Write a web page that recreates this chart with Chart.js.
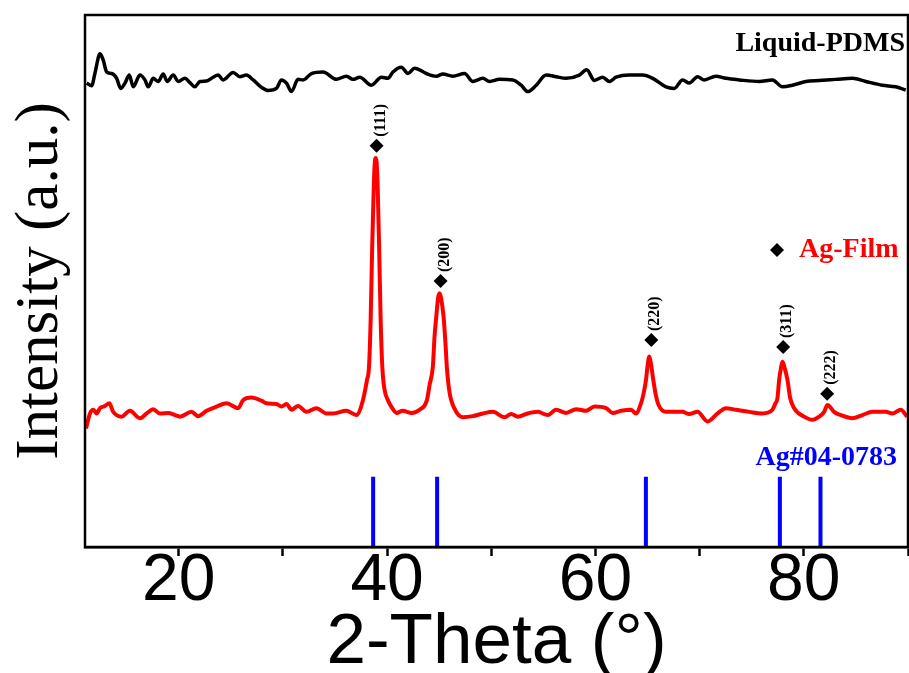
<!DOCTYPE html>
<html>
<head>
<meta charset="utf-8">
<script src="https://cdn.jsdelivr.net/npm/chart.js@4.4.0/dist/chart.umd.min.js"></script>
<style>
  html, body { margin: 0; padding: 0; background: #fff; overflow: hidden; }
  #wrap { width: 909px; height: 673px; position: relative; }
  #xrd { display: block; }
</style>
</head>
<body>
<div id="wrap"><canvas id="xrd"></canvas></div>
<script>
// ----------- Data -----------
// Liquid-PDMS trace (offset at the top)
const pdmsX = [11.16, 11.64, 11.96, 12.44, 12.75, 13.08, 13.56, 14.04, 14.42, 14.84,
  15.25, 15.63, 16.27, 16.75, 17.07, 17.55, 18.03, 18.51, 18.89, 19.47,
  19.95, 20.59, 21.07, 21.55, 22.03, 22.67, 23.30, 23.78, 24.26, 25.22,
  25.86, 26.50, 27.14, 27.94, 28.57, 29.38, 29.86, 30.34, 30.82, 31.45,
  31.93, 32.74, 33.85, 35.12, 36.09, 36.72, 37.37, 38.49, 39.45, 40.08,
  40.56, 41.36, 42.00, 42.64, 43.76, 44.72, 45.35, 46.31, 47.43, 48.23,
  49.19, 49.83, 50.79, 52.06, 52.87, 53.50, 54.31, 55.27, 56.22, 57.18,
  58.46, 59.16, 59.90, 60.69, 61.34, 61.98, 63.25, 64.53, 65.49, 66.77,
  67.57, 68.36, 69.00, 69.80, 70.44, 71.56, 72.52, 73.80, 75.71, 76.99,
  77.95, 78.91, 80.19, 81.47, 83.07, 84.66, 85.95, 87.54, 88.82, 89.78];
const pdmsY = [87.2, 86.7, 89.1, 92.7, 91.5, 89.3, 89.0, 88.1, 86.2, 87.2,
  88.7, 86.5, 88.7, 87.8, 86.5, 88.1, 87.5, 88.9, 87.5, 88.7,
  87.5, 88.1, 87.3, 86.5, 87.5, 87.6, 88.3, 88.7, 87.8, 89.2,
  88.4, 88.7, 87.8, 86.4, 85.8, 86.2, 87.8, 87.2, 85.6, 87.9,
  87.8, 89.0, 89.3, 87.9, 88.5, 87.9, 88.3, 86.8, 88.3, 88.1,
  89.3, 90.2, 89.0, 90.0, 89.0, 88.5, 88.9, 88.5, 89.0, 87.5,
  88.1, 87.5, 87.9, 87.8, 86.8, 85.6, 86.8, 88.7, 88.4, 88.1,
  88.7, 89.7, 87.7, 88.3, 87.5, 88.3, 88.7, 88.7, 88.1, 86.5,
  86.2, 87.8, 87.2, 88.4, 87.8, 88.5, 88.1, 87.8, 87.5, 87.8,
  86.5, 86.8, 87.5, 87.7, 87.9, 88.1, 87.5, 86.8, 86.5, 85.9];

// Ag-Film trace
const agX = [11.10, 11.48, 11.80, 12.12, 12.44, 12.92, 13.33, 13.71, 14.52, 15.31,
  16.27, 16.92, 17.55, 18.19, 18.99, 19.63, 20.11, 21.23, 21.86, 22.67,
  23.63, 24.59, 25.70, 26.18, 26.98, 27.94, 28.42, 29.38, 29.86, 30.34,
  30.82, 31.45, 32.26, 33.21, 34.17, 34.81, 36.09, 37.05, 37.68, 38.07,
  38.26, 38.42, 38.56, 38.71, 38.80, 38.90, 38.99, 39.09, 39.24, 39.38,
  39.54, 39.76, 40.08, 40.43, 40.91, 41.49, 42.35, 43.12, 43.82, 44.08,
  44.39, 44.56, 44.72, 44.89, 45.03, 45.18, 45.42, 45.61, 45.73, 45.99,
  46.47, 47.27, 48.23, 49.19, 50.15, 51.27, 51.91, 52.54, 53.50, 54.46,
  55.42, 56.23, 57.18, 58.14, 59.10, 59.90, 61.02, 61.65, 62.46, 63.42,
  63.89, 64.37, 64.59, 64.85, 65.01, 65.17, 65.33, 65.55, 65.79, 66.06,
  66.77, 67.08, 68.36, 69.00, 69.80, 70.76, 71.72, 72.52, 73.48, 74.76,
  76.03, 76.99, 77.25, 77.47, 77.63, 77.80, 77.95, 78.11, 78.43, 78.69,
  79.07, 80.03, 80.83, 81.47, 81.95, 82.27, 82.53, 82.91, 83.55, 84.66,
  85.62, 86.58, 87.86, 88.50, 89.30, 89.91];
const agY = [22.3, 25.1, 25.8, 25.1, 26.1, 26.5, 27.0, 25.4, 24.5, 25.6,
  24.2, 25.1, 25.9, 25.1, 25.2, 24.8, 24.5, 25.4, 24.6, 25.6,
  26.4, 27.0, 26.1, 27.6, 28.1, 27.5, 27.0, 26.9, 26.4, 26.9,
  25.8, 26.5, 25.4, 26.1, 25.1, 25.1, 25.6, 24.8, 27.6, 31.4,
  33.8, 42.7, 55.8, 67.1, 71.8, 73.1, 72.4, 68.0, 55.8, 42.7,
  33.8, 29.5, 27.6, 26.3, 25.2, 25.6, 25.2, 25.8, 27.6, 30.5,
  33.9, 39.8, 43.3, 46.8, 47.7, 46.8, 43.3, 38.0, 33.9, 29.1,
  26.0, 24.4, 24.6, 25.1, 25.4, 24.4, 25.0, 24.5, 25.1, 25.4,
  24.8, 25.8, 25.2, 25.9, 25.6, 26.4, 26.1, 25.2, 25.6, 25.8,
  25.1, 27.0, 28.6, 31.4, 34.2, 35.8, 34.4, 31.4, 28.6, 26.7,
  25.4, 25.4, 25.4, 25.0, 25.4, 23.6, 25.1, 26.1, 25.8, 25.4,
  25.1, 25.8, 26.9, 28.0, 31.4, 33.6, 34.8, 34.0, 31.4, 28.0,
  26.1, 24.5, 23.9, 24.5, 25.4, 26.7, 26.3, 25.4, 24.8, 24.2,
  24.8, 25.4, 25.4, 25.1, 25.8, 24.5];

// Ag#04-0783 reference lines
const refX = [38.66, 44.8, 64.84, 77.7, 81.6];
const refHeight = 13.2;

// indexed peaks: diamond position and label
const peakX = [38.99, 45.13, 65.36, 78.02, 82.24];
const peakMark = [75.4, 50.0, 38.9, 37.6, 28.8];
const peakHkl = ['(111)', '(200)', '(220)', '(311)', '(222)'];

const xTicks = [20, 40, 60, 80];

// ----------- Build datasets -----------
const toPoints = (xs, ys) => xs.map((v, i) => ({ x: v, y: ys[i] }));
const refPoints = refX.flatMap(v => [{ x: v, y: 0 }, { x: v, y: refHeight }, { x: v, y: null }]);

// ----------- Frame, labels and legend texts -----------
const decorations = {
  id: 'decorations',
  afterDatasetsDraw(chart) {
    const { ctx, chartArea: a, scales: { x, y } } = chart;
    ctx.save();

    // hkl labels, rotated
    ctx.font = 'bold 16px "Liberation Serif"';
    ctx.fillStyle = '#000';
    ctx.textAlign = 'left';
    ctx.textBaseline = 'middle';
    peakX.forEach((p, i) => {
      const px = x.getPixelForValue(p) + 4;
      const py = y.getPixelForValue(peakMark[i]) - 9;
      ctx.save();
      ctx.translate(px, py);
      ctx.rotate(-Math.PI / 2);
      ctx.fillText(peakHkl[i], 0, 0);
      ctx.restore();
    });

    // series names
    ctx.textBaseline = 'alphabetic';
    ctx.font = 'bold 28px "Liberation Serif"';
    ctx.textAlign = 'right';
    ctx.fillStyle = '#000';
    ctx.fillText('Liquid-PDMS', a.right - 3, 51);
    ctx.fillStyle = '#0000ff';
    ctx.fillText('Ag#04-0783', a.right - 11, 465);
    ctx.textAlign = 'left';
    ctx.fillStyle = '#ff0000';
    ctx.fillText('Ag-Film', 799, 257);

    // legend diamond
    ctx.fillStyle = '#000';
    ctx.beginPath();
    ctx.moveTo(777, 243);
    ctx.lineTo(784, 250);
    ctx.lineTo(777, 257);
    ctx.lineTo(770, 250);
    ctx.closePath();
    ctx.fill();

    // box frame
    ctx.strokeStyle = '#000';
    ctx.lineWidth = 2.5;
    ctx.strokeRect(a.left, a.top, a.right - a.left, a.bottom - a.top);
    ctx.restore();
  }
};

new Chart(document.getElementById('xrd'), {
  type: 'line',
  data: {
    datasets: [
      {
        label: 'Liquid-PDMS',
        data: toPoints(pdmsX, pdmsY),
        borderColor: '#000',
        borderWidth: 3.5,
        pointRadius: 0,
        cubicInterpolationMode: 'monotone'
      },
      {
        label: 'Ag-Film',
        data: toPoints(agX, agY),
        borderColor: '#ff0000',
        borderWidth: 4,
        pointRadius: 0,
        cubicInterpolationMode: 'monotone'
      },
      {
        label: 'Ag#04-0783',
        data: refPoints,
        borderColor: '#0000ff',
        borderWidth: 4,
        pointRadius: 0,
        spanGaps: false
      },
      {
        label: 'peaks',
        data: toPoints(peakX, peakMark),
        showLine: false,
        pointStyle: 'rectRot',
        pointRadius: 7,
        backgroundColor: '#000',
        borderColor: '#000',
        borderWidth: 0
      }
    ]
  },
  options: {
    responsive: true,
    maintainAspectRatio: false,
    animation: false,
    layout: { autoPadding: false, padding: { top: 15, right: 1, left: 0, bottom: 0 } },
    plugins: {
      legend: { display: false },
      tooltip: { enabled: false }
    },
    scales: {
      x: {
        type: 'linear',
        min: 11,
        max: 90,
        afterFit: s => {
          s.height = 126;
          s.paddingLeft = 0;
          s.paddingRight = 0;
        },
        ticks: {
          stepSize: 10,
          includeBounds: false,
          autoSkip: false,
          maxRotation: 0,
          padding: -7,
          color: '#000',
          font: { family: 'Liberation Sans', size: 66, lineHeight: 1 },
          callback: v => xTicks.includes(v) ? String(v) : ''
        },
        grid: { drawOnChartArea: false, tickLength: 9, tickWidth: 2.5, tickColor: '#000' },
        border: { color: '#000', width: 2.5 },
        title: {
          display: true,
          text: '2-Theta (°)',
          color: '#000',
          font: { family: 'Liberation Sans', size: 71, lineHeight: 1 },
          padding: { top: 0, bottom: -6 }
        }
      },
      y: {
        min: 0,
        max: 100,
        afterFit: s => {
          s.width = 85;
          s.paddingTop = 0;
          s.paddingBottom = 0;
        },
        ticks: { display: false },
        grid: { display: false },
        border: { display: false },
        title: {
          display: true,
          text: 'Intensity (a.u.)',
          color: '#000',
          font: { family: 'Liberation Serif', size: 61, lineHeight: 1 },
          padding: { top: 10, bottom: 0 }
        }
      }
    }
  },
  plugins: [decorations]
});
</script>
</body>
</html>
